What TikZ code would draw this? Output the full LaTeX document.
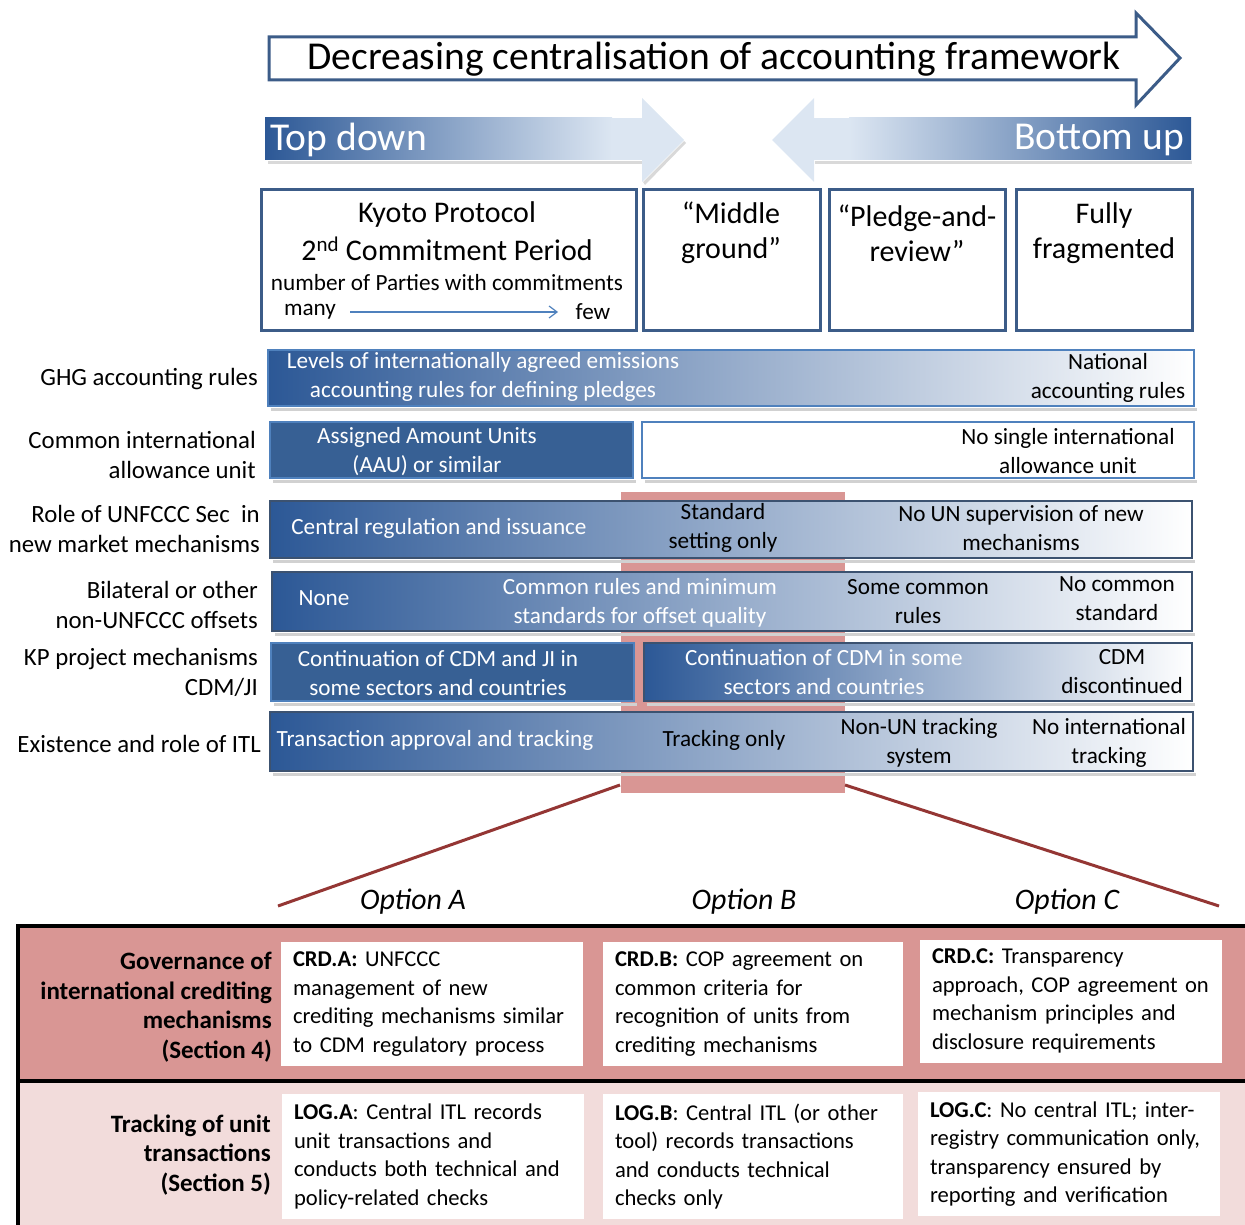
\documentclass[tikz,border=0pt]{standalone}
\usepackage{fontspec}
\setmainfont{Carlito}
\usetikzlibrary{arrows.meta}
\definecolor{dkb}{RGB}{44,88,150}
\definecolor{solb}{RGB}{55,96,148}
\definecolor{ltb}{RGB}{220,230,242}
\definecolor{brd}{RGB}{79,129,189}
\definecolor{dbrd}{RGB}{60,82,112}
\definecolor{frm}{RGB}{60,92,136}
\definecolor{hl}{RGB}{217,150,148}
\definecolor{pk}{RGB}{242,220,219}
\definecolor{dred}{RGB}{148,54,52}
\tikzset{
  lbl/.style={font=\fontsize{24.8}{30}\selectfont, align=right, anchor=east},
  wt/.style={text=white, font=\fontsize{23.2}{29}\selectfont, align=center},
  bt/.style={text=black, font=\fontsize{23.2}{29}\selectfont, align=center},
  hdr/.style={draw=frm, line width=3pt, fill=white},
  htx/.style={font=\fontsize{30}{35}\selectfont, align=center},
  gbar/.style={draw=#1, line width=1.3pt, left color=dkb, right color=white},
  sbar/.style={draw=brd, line width=1.3pt, fill=solb},
  wbar/.style={draw=brd, line width=1.3pt, fill=white},
  shd/.style={fill=black!18},
  opt/.style={font=\fontsize{29.8}{32}\selectfont\itshape},
  cell/.style={fill=white, font=\fontsize{22.6}{28.5}\selectfont, align=left, inner xsep=12pt, inner ysep=0pt},
  rlab/.style={font=\fontsize{25}{29.5}\selectfont\bfseries, align=right, anchor=east},
}
\begin{document}
\begin{tikzpicture}[x=1pt,y=-1pt, every node/.style={inner sep=0pt}]
\useasboundingbox (0,0) rectangle (1245,1225);

% ---- big arrow
\draw[frm, line width=3pt, fill=white, line join=miter] (269,37) -- (1136,37) -- (1136,13) -- (1180,58) -- (1136,105) -- (1136,80) -- (269,80) -- cycle;
\node[font=\fontsize{39.5}{42}\selectfont] (title) at (714,59) {Decreasing centralisation of accounting framework};

% ---- top down arrow
\fill[black!15] (268,161) rectangle (643,164);
\fill[black!15] (643,182) -- (684,141) -- (686,143) -- (645,185) -- cycle;
\shade[left color=dkb, right color=ltb] (265,118) rectangle (612,160);
\fill[ltb] (611,118) rectangle (643,160);
\fill[ltb] (642,98) -- (684,140) -- (642,182) -- cycle;
\node[text=white, font=\fontsize{39.5}{42}\selectfont, anchor=west] (td) at (270,140) {Top down};

% ---- bottom up arrow
\fill[black!15] (815,161) rectangle (1192,164);
\fill[ltb] (813,118) rectangle (850,160);
\shade[left color=ltb, right color=dkb] (849,118) rectangle (1191,160);
\fill[ltb] (814,98) -- (772,140) -- (814,182) -- cycle;
\node[text=white, font=\fontsize{39.5}{42}\selectfont, anchor=east] (bu) at (1184,140) {Bottom up};

% ---- header boxes
\node[hdr, minimum width=375pt, minimum height=140pt] (kp) at (448.5,260) {};
\node[hdr, minimum width=177pt, minimum height=140pt] (mg) at (731.5,260) {};
\node[hdr, minimum width=176pt, minimum height=140pt] (pr) at (917,260) {};
\node[hdr, minimum width=176pt, minimum height=140pt] (ff) at (1104,260) {};
\node[htx] (kp1) at (447,215) {Kyoto Protocol};
\node[htx] (kp2) at (447,249) {2\textsuperscript{nd} Commitment Period};
\node[font=\fontsize{23.2}{26}\selectfont] (kp3) at (447,283) {number of Parties with commitments};
\node[font=\fontsize{23.2}{26}\selectfont] (many) at (310,312) {many};
\node[font=\fontsize{23.2}{26}\selectfont] (few) at (593,312) {few};
\draw[brd, line width=1.2pt, -{Straight Barb[length=8pt,width=12pt]}] (many.east -| 350,312) -- (few.west -| 558,312);
\node[htx] (mgt) at (731,233) {“Middle\\ground”};
\node[htx] (prt) at (917,233) {“Pledge-and-\\review”};
\node[htx] (fft) at (1104,233) {Fully\\fragmented};

% ---- highlight
\node[fill=hl, minimum width=224pt, minimum height=301pt] (hlr) at (733,642.5) {};

% ---- row 1
\fill[shd] (271,408) rectangle (1197,411);
\node[gbar=brd, minimum width=926pt, minimum height=56pt] (r1) at (731,378) {};
\node[lbl] (l1) at (258,379) {GHG accounting rules};
\node[wt] (r1a) at (483,377) {Levels of internationally agreed emissions\\accounting rules for defining pledges};
\node[bt] (r1b) at (1108,378) {National\\accounting rules};

% ---- row 2
\fill[shd] (273,480) rectangle (636,483);
\fill[shd] (645,480) rectangle (1197,483);
\node[sbar, minimum width=363pt, minimum height=56pt] (r2a) at (451.5,450) {};
\node[wbar, minimum width=552pt, minimum height=56pt] (r2b) at (918,450) {};
\node[lbl] (l2) at (256,455) {Common international\\allowance unit};
\node[wt] (r2at) at (427,452) {Assigned Amount Units\\(AAU) or similar};
\node[bt] (r2bt) at (1068,451) {No single international\\allowance unit};

% ---- row 3
\fill[shd] (273,560) rectangle (1195,563);
\node[gbar=dbrd, minimum width=922pt, minimum height=57pt] (r3) at (731,529.5) {};
\node[lbl] (l3) at (260,529) {Role of UNFCCC Sec\ \ in\\new market mechanisms};
\node[wt] (r3a) at (439,528) {Central regulation and issuance};
\node[bt] (r3b) at (723,528) {Standard\\setting only};
\node[bt] (r3c) at (1021,528) {No UN supervision of new\\mechanisms};

% ---- row 4
\fill[shd] (275,633) rectangle (1195,636);
\node[gbar=dbrd, minimum width=920pt, minimum height=59pt] (r4) at (732,601.5) {};
\node[lbl] (l4) at (258,605) {Bilateral or other\\non-UNFCCC offsets};
\node[wt] (r4a) at (324,598) {None};
\node[wt] (r4b) at (640,603) {Common rules and minimum\\standards for offset quality};
\node[bt] (r4c) at (918,602) {Some common\\rules};
\node[bt] (r4d) at (1117,599) {No common\\standard};

% ---- row 5
\fill[shd] (274,703) rectangle (637,706);
\fill[shd] (647,703) rectangle (1195,706);
\node[sbar, draw=brd, minimum width=363pt, minimum height=58pt] (r5a) at (452.5,672) {};
\node[gbar=dbrd, minimum width=548pt, minimum height=58pt] (r5b) at (918,672) {};
\node[lbl] (l5) at (258,672) {KP project mechanisms\\CDM/JI};
\node[wt] (r5at) at (438,673) {Continuation of CDM and JI in\\some sectors and countries};
\node[wt] (r5bt) at (824,672) {Continuation of CDM in some\\sectors and countries};
\node[bt] (r5ct) at (1122,672) {CDM\\discontinued};

% ---- row 6
\fill[shd] (273,773) rectangle (1196,776);
\node[gbar=dbrd, minimum width=923pt, minimum height=59pt] (r6) at (731.5,741.5) {};
\node[lbl] (l6) at (261,744) {Existence and role of ITL};
\node[wt] (r6a) at (435,740) {Transaction approval and tracking};
\node[bt] (r6b) at (724,740) {Tracking only};
\node[bt] (r6c) at (919,743) {Non-UN tracking\\system};
\node[bt] (r6d) at (1109,743) {No international\\tracking};

% ---- connector lines
\coordinate (hlL) at (620,785);
\coordinate (hlR) at (845,785);
\coordinate (tbL) at (278,906);
\coordinate (tbR) at (1219,906);
\draw[dred, line width=3pt] (hlL) -- (tbL);
\draw[dred, line width=3pt] (hlR) -- (tbR);

% ---- options
\node[opt] (oa) at (413,902) {Option A};
\node[opt] (ob) at (744,902) {Option B};
\node[opt] (oc) at (1067,902) {Option C};

% ---- bottom table
\fill[hl] (18,926) rectangle (1245,1081);
\fill[pk] (18,1081) rectangle (1245,1225);
\draw[black, line width=4pt] (1245,926) -- (18,926) -- (18,1225);
\draw[black, line width=4pt] (18,1081) -- (1245,1081);

\node[rlab] (g1) at (272,1007) {Governance of\\international crediting\\mechanisms\\(Section 4)};
\node[rlab] (g2) at (271,1155) {Tracking of unit\\transactions\\(Section 5)};

\node[cell, text width=278pt, minimum width=302pt, minimum height=124pt] (ca) at (432,1004) {\textbf{CRD.A:} UNFCCC\\management of new\\crediting mechanisms similar\\to CDM regulatory process};
\node[cell, text width=276pt, minimum width=300pt, minimum height=124pt] (cb) at (753,1004) {\textbf{CRD.B:} COP agreement on\\common criteria for\\recognition of units from\\crediting mechanisms};
\node[cell, text width=278pt, minimum width=302pt, minimum height=123pt] (cc) at (1071,1001) {\textbf{CRD.C:} Transparency\\approach, COP agreement on\\mechanism principles and\\disclosure requirements};

\node[cell, text width=278pt, minimum width=302pt, minimum height=125pt] (la) at (433,1156.5) {\textbf{LOG.A}: Central ITL records\\unit transactions and\\conducts both technical and\\policy-related checks};
\node[cell, text width=276pt, minimum width=300pt, minimum height=125pt] (lb) at (753,1156.5) {\textbf{LOG.B}: Central ITL (or other\\tool) records transactions\\and conducts technical\\checks only};
\node[cell, text width=278pt, minimum width=302pt, minimum height=124pt] (lc) at (1069,1154) {\textbf{LOG.C}: No central ITL; inter-\\registry communication only,\\transparency ensured by\\reporting and verification};
\end{tikzpicture}
\end{document}
